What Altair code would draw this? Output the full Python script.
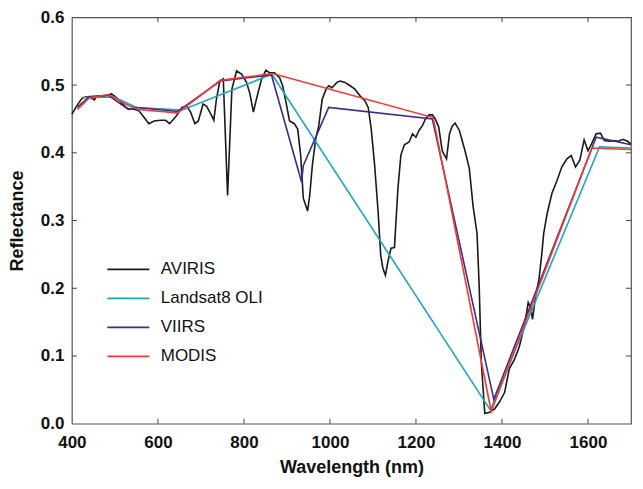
import altair as alt
import pandas as pd

series = ["AVIRIS", "Landsat8 OLI", "VIIRS", "MODIS"]
colors = ["#1a1a1a", "#1ba6c1", "#3d2b8c", "#f23a2e"]

aviris_wl = [400, 411, 423, 434, 446, 452, 457, 476, 492, 503, 515, 526, 534, 541, 556, 568, 579, 591,
             606, 618, 627, 640, 656, 667, 676, 686, 694, 705, 713, 725, 730, 736, 744, 752, 762, 772,
             783, 795, 806, 814, 822, 829, 841, 851, 860, 871, 883, 890, 898, 906, 917, 925, 932, 938,
             948, 953, 959, 967, 974, 982, 991, 997, 1005, 1016, 1024, 1035, 1047, 1058, 1070, 1081,
             1089, 1096, 1104, 1112, 1118, 1123, 1129, 1135, 1142, 1150, 1158, 1165, 1173, 1184, 1192,
             1200, 1207, 1215, 1222, 1230, 1238, 1245, 1253, 1261, 1271, 1278, 1284, 1291, 1301, 1314,
             1324, 1333, 1342, 1347, 1352, 1360, 1371, 1383, 1394, 1406, 1417, 1429, 1440, 1452, 1461,
             1467, 1471, 1478, 1486, 1492, 1497, 1505, 1516, 1528, 1539, 1551, 1561, 1571, 1581, 1591,
             1600, 1608, 1619, 1629, 1638, 1650, 1660, 1671, 1681, 1692, 1700]
aviris_r = [0.457, 0.469, 0.480, 0.483, 0.481, 0.478, 0.483, 0.484, 0.487, 0.482, 0.474, 0.467, 0.464,
            0.465, 0.462, 0.452, 0.443, 0.447, 0.448, 0.448, 0.443, 0.452, 0.467, 0.469, 0.460, 0.443,
            0.447, 0.472, 0.469, 0.455, 0.448, 0.479, 0.506, 0.509, 0.337, 0.494, 0.521, 0.516, 0.504,
            0.487, 0.460, 0.479, 0.509, 0.522, 0.518, 0.518, 0.511, 0.499, 0.474, 0.447, 0.443, 0.435,
            0.396, 0.333, 0.314, 0.337, 0.381, 0.421, 0.440, 0.479, 0.494, 0.499, 0.496, 0.504, 0.506,
            0.504, 0.499, 0.494, 0.484, 0.477, 0.467, 0.435, 0.381, 0.313, 0.249, 0.230, 0.219, 0.240,
            0.259, 0.260, 0.347, 0.397, 0.412, 0.416, 0.428, 0.423, 0.433, 0.440, 0.450, 0.456, 0.456,
            0.450, 0.438, 0.403, 0.391, 0.428, 0.439, 0.444, 0.433, 0.403, 0.377, 0.320, 0.281, 0.203,
            0.090, 0.015, 0.017, 0.022, 0.032, 0.046, 0.081, 0.095, 0.113, 0.144, 0.179, 0.171, 0.154,
            0.188, 0.213, 0.247, 0.281, 0.310, 0.340, 0.359, 0.379, 0.391, 0.396, 0.379, 0.389, 0.419,
            0.403, 0.413, 0.428, 0.429, 0.418, 0.417, 0.418, 0.417, 0.420, 0.417, 0.413]

landsat_wl = [425, 500, 550, 655, 865, 1373, 1627, 1700]
landsat_r = [0.482, 0.482, 0.467, 0.463, 0.516, 0.020, 0.409, 0.407]

viirs_wl = [413, 440, 485, 531, 550, 646, 745, 864, 934, 938, 997, 1238, 1381, 1619, 1700]
viirs_r = [0.467, 0.483, 0.485, 0.464, 0.467, 0.461, 0.506, 0.515, 0.357, 0.381, 0.467, 0.450,
           0.036, 0.423, 0.412]

modis_wl = [413, 440, 485, 524, 554, 646, 745, 867, 1240, 1375, 1609, 1700]
modis_r = [0.464, 0.481, 0.486, 0.472, 0.464, 0.459, 0.507, 0.517, 0.452, 0.018, 0.407, 0.405]

x_ticks = [400, 600, 800, 1000, 1200, 1400, 1600]
y_ticks = [0.0, 0.1, 0.2, 0.3, 0.4, 0.5, 0.6]

rows = []
for name, wl, rf in [("AVIRIS", aviris_wl, aviris_r), ("Landsat8 OLI", landsat_wl, landsat_r),
                     ("VIIRS", viirs_wl, viirs_r), ("MODIS", modis_wl, modis_r)]:
    rows += [{"series": name, "wl": w, "r": v} for w, v in zip(wl, rf)]
df = pd.DataFrame(rows)

W, H = 560, 407
FONT = "Liberation Sans"
xscale = alt.Scale(domain=[400, 1700], nice=False, zero=False)
yscale = alt.Scale(domain=[0, 0.6], nice=False, zero=False)

lines = alt.Chart(df).mark_line(strokeWidth=1.6).encode(
    x=alt.X("wl:Q", scale=xscale,
            axis=alt.Axis(title="Wavelength (nm)", values=x_ticks, format="d", labelFlush=False,
                          labelPadding=11, titlePadding=8)),
    y=alt.Y("r:Q", scale=yscale,
            axis=alt.Axis(title="Reflectance", values=y_ticks, format=".1f", labelFlush=False,
                          labelPadding=8, titlePadding=14)),
    color=alt.Color("series:N", scale=alt.Scale(domain=series, range=colors), sort=series,
                    legend=alt.Legend(title=None, orient="none", legendX=48, legendY=244,
                                      symbolType="M-3,0H3", symbolSize=196, symbolStrokeWidth=1.8,
                                      labelFont=FONT, labelFontSize=17, labelColor="#111",
                                      labelOffset=24, rowPadding=11, padding=0)),
    order=alt.Order("wl:Q"),
)

xt = pd.DataFrame({"wl": x_ticks[1:]})
yt = pd.DataFrame({"r": y_ticks[1:-1]})
tick_col = "#444"
bottom = alt.Chart(xt).mark_rule(color=tick_col).encode(
    x=alt.X("wl:Q", scale=xscale), y=alt.value(H), y2=alt.value(H - 5))
top = alt.Chart(xt).mark_rule(color=tick_col).encode(
    x=alt.X("wl:Q", scale=xscale), y=alt.value(0), y2=alt.value(5))
left = alt.Chart(yt).mark_rule(color=tick_col).encode(
    y=alt.Y("r:Q", scale=yscale), x=alt.value(0), x2=alt.value(5))
right = alt.Chart(yt).mark_rule(color=tick_col).encode(
    y=alt.Y("r:Q", scale=yscale), x=alt.value(W), x2=alt.value(W - 5))

chart = alt.layer(lines, bottom, top, left, right).properties(
    width=W, height=H,
    padding={"left": 0, "top": 0, "right": 0, "bottom": 0},
).configure_view(
    stroke="#555", strokeWidth=1.2
).configure_axis(
    domain=False, ticks=False, grid=False,
    labelFont=FONT, labelFontSize=17, labelFontWeight="bold", labelColor="#111",
    titleFont=FONT, titleFontSize=18, titleFontWeight="bold", titleColor="#111",
)

chart.save("out.html", embed_options={"renderer": "svg", "actions": False})
